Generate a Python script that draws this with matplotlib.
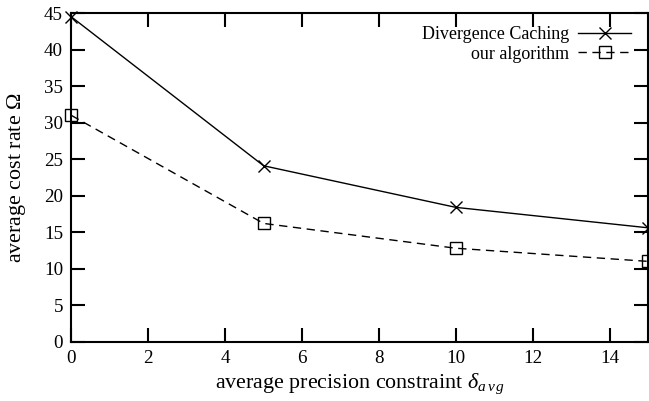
import matplotlib
matplotlib.use('Agg')
import matplotlib.pyplot as plt

# Values
precision = [0, 5, 10, 15]
divergence_caching = [44.5, 24.1, 18.4, 15.6]
our_algorithm = [31.0, 16.2, 12.8, 11.0]
x_ticks = [0, 2, 4, 6, 8, 10, 12, 14]
y_ticks = [0, 5, 10, 15, 20, 25, 30, 35, 40, 45]

plt.rcParams['font.family'] = 'Liberation Serif'
plt.rcParams['mathtext.fontset'] = 'custom'
plt.rcParams['mathtext.rm'] = 'Liberation Serif'
plt.rcParams['mathtext.it'] = 'Liberation Serif:italic'

fig = plt.figure(figsize=(6.49, 4.01), dpi=100)
ax = fig.add_axes([0.110, 0.148, 0.8885, 0.819])

ax.plot(precision, divergence_caching, color='black', lw=1.0,
        marker='x', ms=9, mew=1.0, label='Divergence Caching', clip_on=False)
ax.plot(precision, our_algorithm, color='black', lw=1.0, dashes=(6, 4),
        marker='s', ms=8.5, mew=1.0, mfc='none', label='our algorithm',
        clip_on=False)

ax.set_xlim(0, 15)
ax.set_ylim(0, 45)
ax.set_xticks(x_ticks)
ax.set_yticks(y_ticks)
ax.tick_params(direction='in', length=10, width=1.5, top=True, right=True,
               pad=6, labelsize=13.7)
for s in ax.spines.values():
    s.set_linewidth(1.5)

ax.set_xlabel(r'average precision constraint $\delta_{a\,v\,g}$', fontsize=15.8)
ax.set_ylabel(r'average cost rate $\Omega$', fontsize=15.8)
ax.xaxis.set_label_coords(0.5, -0.092)
ax.yaxis.set_label_coords(-0.075, 0.5)

ax.legend(loc='upper right', bbox_to_anchor=(0.97, 0.961), frameon=False,
          markerfirst=False, handlelength=2.9, handletextpad=0.5,
          borderpad=0, borderaxespad=0, labelspacing=0.15, fontsize=13.0)

plt.savefig('out.png', dpi=100)
